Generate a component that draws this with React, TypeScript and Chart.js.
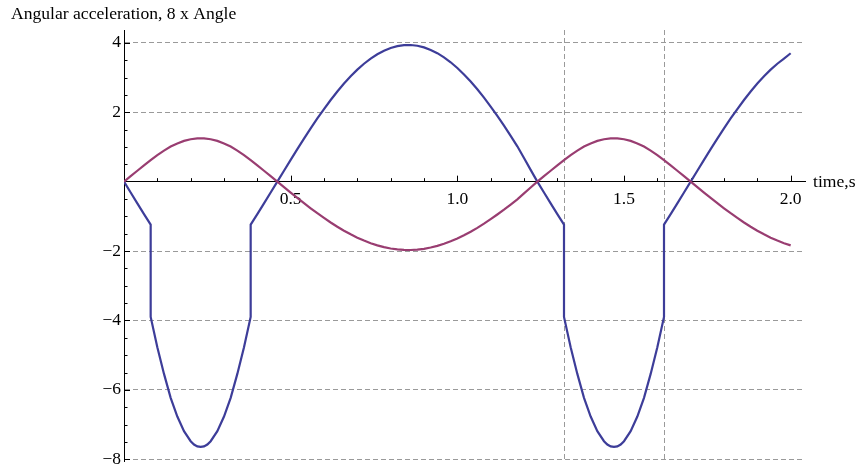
import React, { useEffect, useRef } from 'react';
import { Chart, registerables } from 'chart.js';

Chart.register(...registerables);

const FONT = "'Liberation Serif', 'Times New Roman', serif";

const timeAngle = [
  0, 0.02, 0.04, 0.06, 0.08, 0.1, 0.12, 0.14, 0.16, 0.18, 0.2, 0.22, 0.24, 0.26, 0.28, 0.3, 0.32, 0.34, 0.36, 0.38,
  0.4, 0.42, 0.44, 0.46, 0.48, 0.5, 0.52, 0.54, 0.56, 0.58, 0.6, 0.62, 0.64, 0.66, 0.68, 0.7, 0.72, 0.74, 0.76, 0.78,
  0.8, 0.82, 0.84, 0.86, 0.88, 0.9, 0.92, 0.94, 0.96, 0.98, 1.0, 1.02, 1.04, 1.06, 1.08, 1.1, 1.12, 1.14, 1.16, 1.18,
  1.2, 1.22, 1.24, 1.26, 1.28, 1.3, 1.32, 1.34, 1.36, 1.38, 1.4, 1.42, 1.44, 1.46, 1.48, 1.5, 1.52, 1.54, 1.56, 1.58,
  1.6, 1.62, 1.64, 1.66, 1.68, 1.7, 1.72, 1.74, 1.76, 1.78, 1.8, 1.82, 1.84, 1.86, 1.88, 1.9, 1.92, 1.94, 1.96, 1.98, 2.0,
];

const angle8 = [
  0, 0.157, 0.314, 0.468, 0.62, 0.766, 0.896, 1.011, 1.102, 1.174, 1.222, 1.247, 1.247, 1.222, 1.174, 1.102, 1.011, 0.896, 0.766, 0.62,
  0.468, 0.314, 0.157, 0, -0.157, -0.314, -0.468, -0.62, -0.767, -0.91, -1.046, -1.176, -1.299, -1.413, -1.518, -1.614, -1.699, -1.773, -1.836, -1.887,
  -1.926, -1.953, -1.968, -1.969, -1.958, -1.935, -1.898, -1.851, -1.791, -1.72, -1.638, -1.545, -1.442, -1.331, -1.211, -1.082, -0.947, -0.807, -0.66, -0.509,
  -0.34, -0.17, 0, 0.157, 0.314, 0.468, 0.62, 0.766, 0.896, 1.011, 1.102, 1.174, 1.222, 1.247, 1.247, 1.222, 1.174, 1.102, 1.011, 0.896,
  0.766, 0.62, 0.468, 0.314, 0.157, 0, -0.157, -0.314, -0.468, -0.62, -0.767, -0.91, -1.046, -1.176, -1.299, -1.413, -1.518, -1.614, -1.699, -1.773, -1.836,
];

const timeAccel = [
  0, 0.02, 0.04, 0.06, 0.08, 0.08, 0.1, 0.12, 0.14, 0.16, 0.18, 0.2, 0.21, 0.22, 0.23, 0.24, 0.25, 0.26, 0.28, 0.3, 0.32, 0.34,
  0.36, 0.38, 0.38, 0.4, 0.42, 0.44, 0.46, 0.48, 0.5, 0.52, 0.54, 0.56, 0.58, 0.6, 0.62, 0.64, 0.66, 0.68, 0.7, 0.72,
  0.74, 0.76, 0.78, 0.8, 0.82, 0.84, 0.86, 0.88, 0.9, 0.92, 0.94, 0.96, 0.98, 1.0, 1.02, 1.04, 1.06, 1.08, 1.1, 1.12,
  1.14, 1.16, 1.18, 1.2, 1.22, 1.24, 1.26, 1.28, 1.3, 1.32, 1.32, 1.34, 1.36, 1.38, 1.4, 1.42, 1.44, 1.45, 1.46, 1.47, 1.48, 1.49,
  1.5, 1.52, 1.54, 1.56, 1.58, 1.6, 1.62, 1.62, 1.64, 1.66, 1.68, 1.7, 1.72, 1.74, 1.76, 1.78, 1.8, 1.82, 1.84, 1.86,
  1.88, 1.9, 1.92, 1.94, 1.96, 1.98, 2.0,
];

const accel = [
  0, -0.314, -0.628, -0.936, -1.24, -3.9, -4.77, -5.54, -6.23, -6.77, -7.19, -7.48, -7.575, -7.63, -7.645, -7.63, -7.575, -7.48, -7.19, -6.77, -6.23, -5.54,
  -4.77, -3.9, -1.24, -0.936, -0.628, -0.314, 0, 0.314, 0.628, 0.936, 1.24, 1.534, 1.82, 2.092, 2.352, 2.598, 2.826, 3.036, 3.228, 3.398,
  3.546, 3.672, 3.774, 3.852, 3.906, 3.936, 3.938, 3.916, 3.87, 3.796, 3.702, 3.582, 3.44, 3.276, 3.09, 2.884, 2.662, 2.422, 2.164, 1.894,
  1.614, 1.32, 1.018, 0.68, 0.34, 0, -0.314, -0.628, -0.936, -1.24, -3.9, -4.77, -5.54, -6.23, -6.77, -7.19, -7.48, -7.575, -7.63, -7.645, -7.63, -7.575,
  -7.48, -7.19, -6.77, -6.23, -5.54, -4.77, -3.9, -1.24, -0.936, -0.628, -0.314, 0, 0.314, 0.628, 0.936, 1.24, 1.534, 1.82, 2.092, 2.352,
  2.598, 2.826, 3.036, 3.228, 3.398, 3.546, 3.7,
];

const xTickValues = [0.5, 1.0, 1.5, 2.0];
const xTickLabels = ['0.5', '1.0', '1.5', '2.0'];
const markerTimes = [1.32, 1.62];
const yTickValues = [-8, -6, -4, -2, 2, 4];
const yTickLabels = ['\u22128', '\u22126', '\u22124', '\u22122', '2', '4'];
const yTitle = 'Angular acceleration, 8 x Angle';
const xTitle = 'time,s';

const ACCEL_COLOR = '#3d3d99';
const ANGLE_COLOR = '#993d71';
const GRID_COLOR = '#9a9a9a';

function zip(xs: number[], ys: number[]) {
  const n = Math.min(xs.length, ys.length);
  const out: { x: number; y: number }[] = [];
  for (let i = 0; i < n; i++) out.push({ x: xs[i], y: ys[i] });
  return out;
}

const near = (a: number, b: number) => Math.abs(a - b) < 1e-9;

const decorPlugin = {
  id: 'decor',
  beforeDatasetsDraw(chart: any) {
    const { ctx } = chart;
    const xs = chart.scales.x;
    const ys = chart.scales.y;
    const y0 = ys.getPixelForValue(0);
    const x0 = xs.getPixelForValue(0);
    ctx.save();
    ctx.strokeStyle = '#000';
    ctx.lineWidth = 1;
    ctx.beginPath();
    for (let k = 1; k <= 20; k++) {
      const v = k / 10;
      const major = k % 5 === 0;
      const px = Math.round(xs.getPixelForValue(v)) + 0.5;
      ctx.moveTo(px, y0);
      ctx.lineTo(px, y0 - (major ? 6 : 3.5));
    }
    for (let k = -16; k <= 8; k++) {
      if (k === 0) continue;
      const v = k / 2;
      const major = k % 4 === 0;
      const py = Math.round(ys.getPixelForValue(v)) + 0.5;
      ctx.moveTo(x0, py);
      ctx.lineTo(x0 + (major ? 6 : 3.5), py);
    }
    ctx.stroke();
    ctx.restore();
  },
  afterDraw(chart: any) {
    const { ctx } = chart;
    const xs = chart.scales.x;
    const ys = chart.scales.y;
    ctx.save();
    ctx.fillStyle = '#000';
    ctx.font = `17.6px ${FONT}`;
    ctx.textBaseline = 'middle';
    ctx.textAlign = 'left';
    ctx.fillText(yTitle, 11, 14);
    ctx.fillText(xTitle, xs.right + 8, ys.getPixelForValue(0) + 1);
    ctx.restore();
  },
};

export default function App() {
  const ref = useRef<HTMLCanvasElement | null>(null);

  useEffect(() => {
    if (!ref.current) return;
    const chart = new Chart(ref.current, {
      type: 'line',
      data: {
        datasets: [
          {
            label: '8 x Angle',
            data: zip(timeAngle, angle8),
            borderColor: ANGLE_COLOR,
            borderWidth: 2.2,
            pointRadius: 0,
            tension: 0,
            fill: false,
          },
          {
            label: 'Angular acceleration',
            data: zip(timeAccel, accel),
            borderColor: ACCEL_COLOR,
            borderWidth: 2.2,
            pointRadius: 0,
            tension: 0,
            fill: false,
          },
        ],
      },
      plugins: [decorPlugin],
      options: {
        animation: false,
        responsive: false,
        maintainAspectRatio: false,
        layout: { padding: { left: 0, top: 30, right: 53, bottom: 10 } },
        plugins: {
          legend: { display: false },
          title: { display: false },
          tooltip: { enabled: false },
        },
        scales: {
          x: {
            type: 'linear',
            min: 0,
            max: 2.043,
            position: { y: 0 } as any,
            afterFit: (s: any) => {
              s.height = 0;
              s.paddingLeft = 0;
              s.paddingRight = 0;
            },
            afterBuildTicks: (s: any) => {
              s.ticks = [...xTickValues, ...markerTimes].sort((a, b) => a - b).map((v) => ({ value: v }));
            },
            ticks: {
              autoSkip: false,
              maxRotation: 0,
              padding: 7,
              color: '#000',
              font: { family: FONT, size: 17.5 },
              callback: (v: any) => {
                const i = xTickValues.findIndex((t) => near(t, Number(v)));
                return i >= 0 ? xTickLabels[i] : '';
              },
            },
            grid: {
              drawTicks: false,
              lineWidth: 1,
              color: (c: any) =>
                c.tick && markerTimes.some((m) => near(m, c.tick.value)) ? GRID_COLOR : 'rgba(0,0,0,0)',
            },
            border: { display: true, color: '#000', width: 1, dash: [5, 3] },
          },
          y: {
            type: 'linear',
            min: -8.05,
            max: 4.37,
            position: 'left',
            afterFit: (s: any) => {
              s.width = 124;
              s.paddingTop = 0;
              s.paddingBottom = 0;
            },
            afterBuildTicks: (s: any) => {
              s.ticks = [...yTickValues, 0].sort((a, b) => a - b).map((v) => ({ value: v }));
            },
            ticks: {
              autoSkip: false,
              padding: 3,
              color: '#000',
              font: { family: FONT, size: 17.5 },
              callback: (v: any) => {
                const i = yTickValues.findIndex((t) => near(t, Number(v)));
                return i >= 0 ? yTickLabels[i] : '';
              },
            },
            grid: {
              drawTicks: false,
              lineWidth: 1,
              color: (c: any) => (c.tick && near(c.tick.value, 0) ? 'rgba(0,0,0,0)' : GRID_COLOR),
            },
            border: { display: true, color: '#000', width: 1, dash: [5, 3] },
          },
        },
      },
    });
    return () => chart.destroy();
  }, []);

  return (
    <div style={{ position: 'fixed', left: 0, top: 0, width: 858, height: 471, background: '#fff' }}>
      <canvas ref={ref} width={858} height={471} style={{ display: 'block', width: 858, height: 471 }} />
    </div>
  );
}
